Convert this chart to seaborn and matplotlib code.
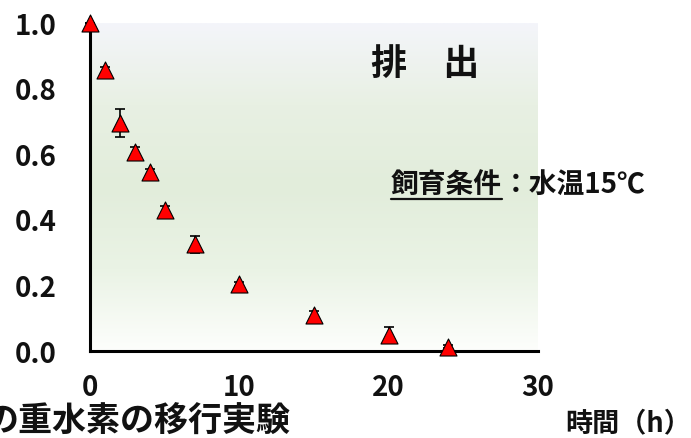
import numpy as np
import seaborn as sns
import matplotlib.pyplot as plt
from matplotlib.colors import LinearSegmentedColormap
from matplotlib.lines import Line2D

# data
hours = [0, 1, 2, 3, 4, 5, 7, 10, 15, 20, 24]
ratio = [1.0, 0.856, 0.695, 0.607, 0.545, 0.428, 0.324, 0.203, 0.11, 0.047, 0.012]
err = [0.0, 0.01, 0.043, 0.015, 0.01, 0.012, 0.025, 0.005, 0.012, 0.025, 0.005]
xticks = [0, 10, 20, 30]
yticks = [0.0, 0.2, 0.4, 0.6, 0.8, 1.0]

# top -> bottom
bg_colors = ['#f4f5fa', '#e8f0e3', '#e2eddb', '#eaf3e5', '#fdfefc']

sns.set_theme(style='white')
plt.rcParams['font.family'] = ['Noto Sans CJK JP', 'DejaVu Sans']

fig = plt.figure(figsize=(6.91, 4.39), dpi=100)
ax = fig.add_axes([90 / 691, 1 - 351.7 / 439, 448 / 691, 328 / 439])

# gradient background
cmap = LinearSegmentedColormap.from_list('bg', bg_colors)
grad = np.linspace(0, 1, 256).reshape(-1, 1)
ax.imshow(grad, cmap=cmap, aspect='auto', extent=[0, 30, 0, 1], origin='upper', zorder=0)

ax.errorbar(hours, ratio, yerr=err, fmt='none', ecolor='black', elinewidth=1.2,
            capsize=3.5, capthick=1.2, zorder=3, clip_on=False)
sns.scatterplot(x=hours, y=ratio, marker='^', s=150, color='#ff0000',
                edgecolor='black', linewidth=0.8, zorder=4, clip_on=False, ax=ax)

ax.set_xlim(0, 30)
ax.set_ylim(0, 1)
ax.set_xticks(xticks)
ax.set_yticks(yticks)
ax.set_xticklabels([str(t) for t in xticks])
ax.set_yticklabels([f'{t:.1f}' for t in yticks])
for side in ['top', 'right']:
    ax.spines[side].set_visible(False)
for side in ['left', 'bottom']:
    ax.spines[side].set_linewidth(2.2)
    ax.spines[side].set_color('black')
ax.tick_params(axis='both', direction='in', length=6.5, width=2.2, color='black',
               labelsize=20, labelcolor='#111111')
ax.tick_params(axis='x', pad=16)
ax.tick_params(axis='y', pad=24)
for lab in ax.get_xticklabels() + ax.get_yticklabels():
    lab.set_fontweight('bold')

fig.text(371 / 691, 1 - 64 / 439, '排\u3000出', fontsize=26, fontweight='bold',
         ha='left', va='center', color='#111111')
t1 = fig.text(391 / 691, 1 - 185 / 439, '飼育条件', fontsize=20, fontweight='bold',
              ha='left', va='center', color='#111111')
fig.canvas.draw()
bb = t1.get_window_extent()
fig.text(bb.x1 / 691, 1 - 185 / 439, '：水温15℃', fontsize=20, fontweight='bold',
         ha='left', va='center', color='#111111')
uy = bb.y0 - 1
fig.add_artist(Line2D([bb.x0 / 691, bb.x1 / 691], [uy / 439, uy / 439],
                      color='#111111', linewidth=1.6))

# the title runs off the left edge in the original too
fig.text(291 / 691, 1 - 421 / 439, 'の重水素の移行実験', fontsize=24.5, fontweight='bold',
         ha='right', va='center', color='#111111')
fig.text(565 / 691, 1 - 423 / 439, '時間（h）', fontsize=19.5, fontweight='bold',
         ha='left', va='center', color='#111111')

fig.savefig('out.png', dpi=100)
